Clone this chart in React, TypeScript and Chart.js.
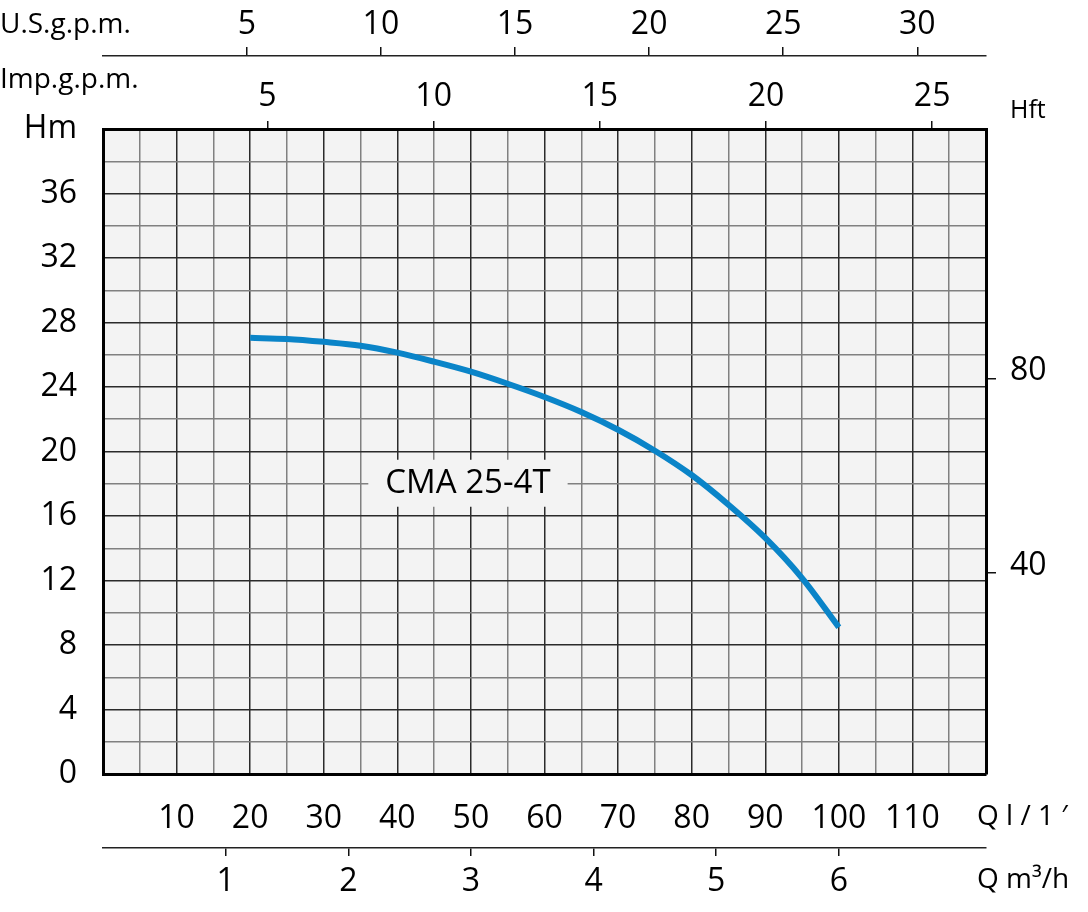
import React, { useEffect, useRef } from "react";
import { Chart, registerables } from "chart.js";

Chart.register(...registerables);

// Pump curve CMA 25-4T : flow Q (l/min) vs head H (m)
const flowLpm = [20, 25, 30, 35, 40, 45, 50, 55, 60, 65, 70, 75, 80, 85, 90, 95, 100];
const headM = [27.05, 26.98, 26.8, 26.56, 26.13, 25.57, 24.95, 24.2, 23.38, 22.45, 21.35, 20.05, 18.54, 16.7, 14.64, 12.15, 9.1];

const seriesName = "CMA 25-4T";
const seriesLabelAt = { q: 49.6, h: 18 };

// Secondary axis tick labels
const usGpmTicks = [5, 10, 15, 20, 25, 30];
const impGpmTicks = [5, 10, 15, 20, 25];
const m3hTicks = [1, 2, 3, 4, 5, 6];
const hftTicks = [40, 80];

// Axis ranges (matching the reference graticule)
const qRange = [0, 120];
const hRange = [0, 40];
const usGpmRange = [-0.362, 32.56];
const impGpmRange = [0.05, 26.62];
const m3hRange = [0, 7.2];
const hftRange = [-1.42, 131.3];

const FONT = '"Open Sans", "Noto Sans", sans-serif';
const tickFont = { family: FONT, size: 32 };

export default function App() {
  const ref = useRef<HTMLCanvasElement | null>(null);

  useEffect(() => {
    if (!ref.current) return;

    const bgPlugin = {
      id: "bg",
      beforeDraw(chart: any) {
        const { ctx, chartArea: a } = chart;
        ctx.save();
        ctx.fillStyle = "#f3f3f3";
        ctx.fillRect(a.left, a.top, a.right - a.left, a.bottom - a.top);
        ctx.restore();
      },
      afterDraw(chart: any) {
        const { ctx } = chart;
        const xs = chart.scales.x;
        const ys = chart.scales.y;
        ctx.save();
        // series label with background box
        const cx = xs.getPixelForValue(seriesLabelAt.q);
        const cy = ys.getPixelForValue(seriesLabelAt.h);
        ctx.font = `33px ${FONT}`;
        const w = ctx.measureText(seriesName).width;
        ctx.fillStyle = "#f3f3f3";
        ctx.fillRect(cx - w / 2 - 17, cy - 24, w + 34, 47);
        ctx.fillStyle = "#000";
        ctx.textAlign = "center";
        ctx.textBaseline = "middle";
        ctx.fillText(seriesName, cx, cy);

        // axis titles
        ctx.textAlign = "left";
        ctx.textBaseline = "alphabetic";
        ctx.font = `28px ${FONT}`;
        ctx.fillText("U.S.g.p.m.", 0, 33);
        ctx.fillText("Imp.g.p.m.", 0, 88);
        ctx.fillText("Q l / 1 \u2032", 977, 825);
        ctx.fillText("Q m\u00B3/h", 977, 888);
        ctx.font = `25px ${FONT}`;
        ctx.fillText("Hft", 1010, 118);
        ctx.restore();
      },
    };

    const gridColor = (step: number) => (c: any) => {
      const v = c.tick ? c.tick.value : 0;
      return Math.abs(v % step) < 1e-6 ? "#2a2a2a" : "#808080";
    };

    const chart = new Chart(ref.current, {
      type: "line",
      data: {
        datasets: [
          {
            label: seriesName,
            data: flowLpm.map((q, i) => ({ x: q, y: headM[i] })),
            borderColor: "#0a84c8",
            borderWidth: 6,
            pointRadius: 0,
            fill: false,
            cubicInterpolationMode: "monotone",
            borderCapStyle: "butt",
            xAxisID: "x",
            yAxisID: "y",
          },
        ],
      },
      options: {
        animation: false,
        responsive: false,
        devicePixelRatio: 1,
        layout: { padding: 0 },
        plugins: { legend: { display: false }, tooltip: { enabled: false } },
        scales: {
          x: {
            type: "linear",
            position: "bottom",
            weight: 0,
            min: qRange[0],
            max: qRange[1],
            afterFit: (s: any) => {
              s.height = 74;
            },
            ticks: {
              stepSize: 5,
              autoSkip: false,
              maxRotation: 0,
              minRotation: 0,
              padding: 26,
              color: "#000",
              font: tickFont,
              callback: (v: any) => (v % 10 === 0 && v > 0 && v < 120 ? String(v) : ""),
            },
            grid: { drawTicks: false, color: gridColor(10), lineWidth: 1.5 },
            border: { display: true, color: "#000", width: 3 },
          },
          y: {
            type: "linear",
            position: "left",
            weight: 0,
            min: hRange[0],
            max: hRange[1],
            afterFit: (s: any) => {
              s.width = 103;
            },
            ticks: {
              stepSize: 2,
              autoSkip: false,
              padding: 26,
              color: "#000",
              font: tickFont,
              callback: (v: any) => (v === 40 ? "Hm" : v % 4 === 0 ? String(v) : ""),
            },
            grid: { drawTicks: false, color: gridColor(4), lineWidth: 1.5 },
            border: { display: true, color: "#000", width: 3 },
          },
          xUS: {
            type: "linear",
            position: "top",
            weight: 1,
            min: usGpmRange[0],
            max: usGpmRange[1],
            afterFit: (s: any) => {
              s.height = 56;
            },
            afterBuildTicks: (s: any) => {
              s.ticks = usGpmTicks.map((v) => ({ value: v }));
            },
            ticks: { autoSkip: false, maxRotation: 0, minRotation: 0, padding: 3, color: "#000", font: tickFont },
            grid: { drawOnChartArea: false, drawTicks: true, tickLength: 9, color: "#111", lineWidth: 1.5 },
            border: { display: true, color: "#222", width: 1.5 },
          },
          xImp: {
            type: "linear",
            position: "top",
            weight: 0,
            min: impGpmRange[0],
            max: impGpmRange[1],
            afterFit: (s: any) => {
              s.height = 73;
            },
            afterBuildTicks: (s: any) => {
              s.ticks = impGpmTicks.map((v) => ({ value: v }));
            },
            ticks: { autoSkip: false, maxRotation: 0, minRotation: 0, padding: 5, color: "#000", font: tickFont },
            grid: { drawOnChartArea: false, drawTicks: true, tickLength: 8, color: "#111", lineWidth: 1.5 },
            border: { display: true, color: "#000", width: 3 },
          },
          xM3: {
            type: "linear",
            position: "bottom",
            weight: 1,
            min: m3hRange[0],
            max: m3hRange[1],
            afterFit: (s: any) => {
              s.height = 64;
            },
            afterBuildTicks: (s: any) => {
              s.ticks = m3hTicks.map((v) => ({ value: v }));
            },
            ticks: { autoSkip: false, maxRotation: 0, minRotation: 0, padding: 7, color: "#000", font: tickFont },
            grid: { drawOnChartArea: false, drawTicks: true, tickLength: 8, color: "#111", lineWidth: 1.5 },
            border: { display: true, color: "#222", width: 1.5 },
          },
          yFt: {
            type: "linear",
            position: "right",
            weight: 0,
            min: hftRange[0],
            max: hftRange[1],
            afterFit: (s: any) => {
              s.width = 102;
            },
            afterBuildTicks: (s: any) => {
              s.ticks = hftTicks.map((v) => ({ value: v }));
            },
            ticks: { autoSkip: false, padding: 14, labelOffset: -7, color: "#000", font: tickFont },
            grid: { drawOnChartArea: false, drawTicks: true, tickLength: 10, color: "#111", lineWidth: 1.5 },
            border: { display: true, color: "#000", width: 3 },
          },
        },
      } as any,
      plugins: [bgPlugin],
    });

    return () => chart.destroy();
  }, []);

  return (
    <div style={{ position: "absolute", left: 0, top: 0, width: 1088, height: 912, background: "#fff" }}>
      <canvas ref={ref} width={1088} height={912} style={{ display: "block" }} />
    </div>
  );
}
